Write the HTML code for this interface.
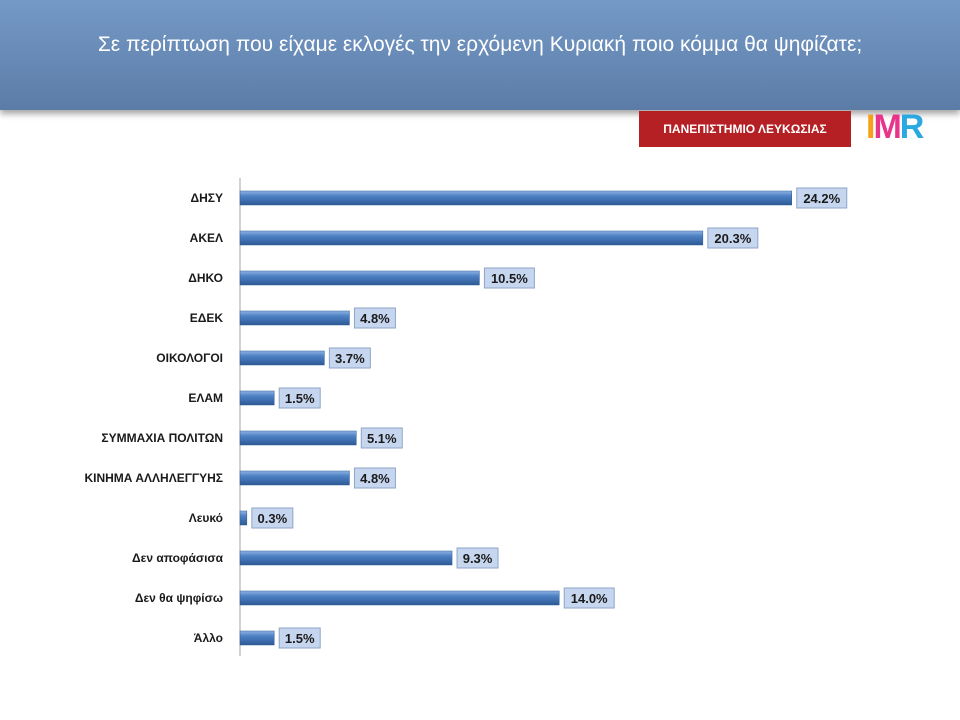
<!DOCTYPE html>
<html><head><meta charset="utf-8">
<style>
html,body{margin:0;padding:0;background:#fff;}
body{width:960px;height:720px;position:relative;overflow:hidden;font-family:"Liberation Sans","DejaVu Sans",sans-serif;}
#header{position:absolute;left:0;top:0;width:960px;height:110px;background:linear-gradient(#7599c7,#5b7ca6);box-shadow:0 4px 6px rgba(0,0,0,0.35);}
#title{position:absolute;left:40px;top:30px;width:880px;text-align:center;color:#fff;font-size:21px;line-height:30px;}
#univ{position:absolute;left:639px;top:111px;width:212px;height:36px;background:#b52025;color:#fff;font-weight:bold;font-size:12px;line-height:36px;text-align:center;}
#imr{position:absolute;left:866px;top:108px;font-weight:bold;font-size:34px;letter-spacing:-2px;}
</style></head><body>
<div id="header"><div id="title">Σε περίπτωση που είχαμε εκλογές την ερχόμενη Κυριακή ποιο κόμμα θα ψηφίζατε;</div></div>
<div id="univ">ΠΑΝΕΠΙΣΤΗΜΙΟ ΛΕΥΚΩΣΙΑΣ</div>
<div id="imr"><span style="color:#f6a01a">I</span><span style="color:#e8348a">M</span><span style="color:#2aa8e0">R</span></div>
<svg id="chart" width="960" height="720" style="position:absolute;left:0;top:0">
<defs><linearGradient id="bg" x1="0" y1="0" x2="0" y2="1">
<stop offset="0" stop-color="#8fb4e3"/><stop offset="0.35" stop-color="#4f81c4"/><stop offset="1" stop-color="#2c5a96"/></linearGradient></defs>
</svg>
<script>
const categories=["ΔΗΣΥ","ΑΚΕΛ","ΔΗΚΟ","ΕΔΕΚ","ΟΙΚΟΛΟΓΟΙ","ΕΛΑΜ","ΣΥΜΜΑΧΙΑ ΠΟΛΙΤΩΝ","ΚΙΝΗΜΑ ΑΛΛΗΛΕΓΓΥΗΣ","Λευκό","Δεν αποφάσισα","Δεν θα ψηφίσω","Άλλο"];
const values=[24.2,20.3,10.5,4.8,3.7,1.5,5.1,4.8,0.3,9.3,14.0,1.5];
const valueLabels=["24.2%","20.3%","10.5%","4.8%","3.7%","1.5%","5.1%","4.8%","0.3%","9.3%","14.0%","1.5%"];
const svg=document.getElementById('chart');const NS='http://www.w3.org/2000/svg';
const x0=240,pxPer=22.8,y0=198,step=40,bh=14;
const xs=v=>x0+v*pxPer;const ys=i=>y0+i*step;
function mk(t,a){const e=document.createElementNS(NS,t);for(const k in a)e.setAttribute(k,a[k]);svg.appendChild(e);return e;}
const ax=mk('line',{x1:x0,y1:178,x2:x0,y2:656,stroke:'#a6a6a6','stroke-width':1});


categories.forEach((c,i)=>{
 const y=ys(i);
 const t=mk('text',{x:223,y:y+4,'text-anchor':'end','font-size':'12','font-weight':'bold',fill:'#1a1a1a'});t.textContent=c;
 
 
 const w=Math.max(xs(values[i])-x0,1);
 const b=mk('rect',{x:x0,y:y-bh/2,width:w,height:bh,fill:'url(#bg)',stroke:'#2c5a96','stroke-width':0.5});
 
 
 const bx=x0+w+5;
 const r=mk('rect',{x:bx,y:y-10,width:valueLabels[i].length>4?50:41,height:20,fill:'#c6d6ee',stroke:'#8ea6c8','stroke-width':1});
 
 
 const vt=mk('text',{x:bx+(valueLabels[i].length>4?25:20.5),y:y+5,'text-anchor':'middle','font-size':'13','font-weight':'bold',fill:'#1a1a1a'});vt.textContent=valueLabels[i];
 
 
});
</script>
</body></html>
